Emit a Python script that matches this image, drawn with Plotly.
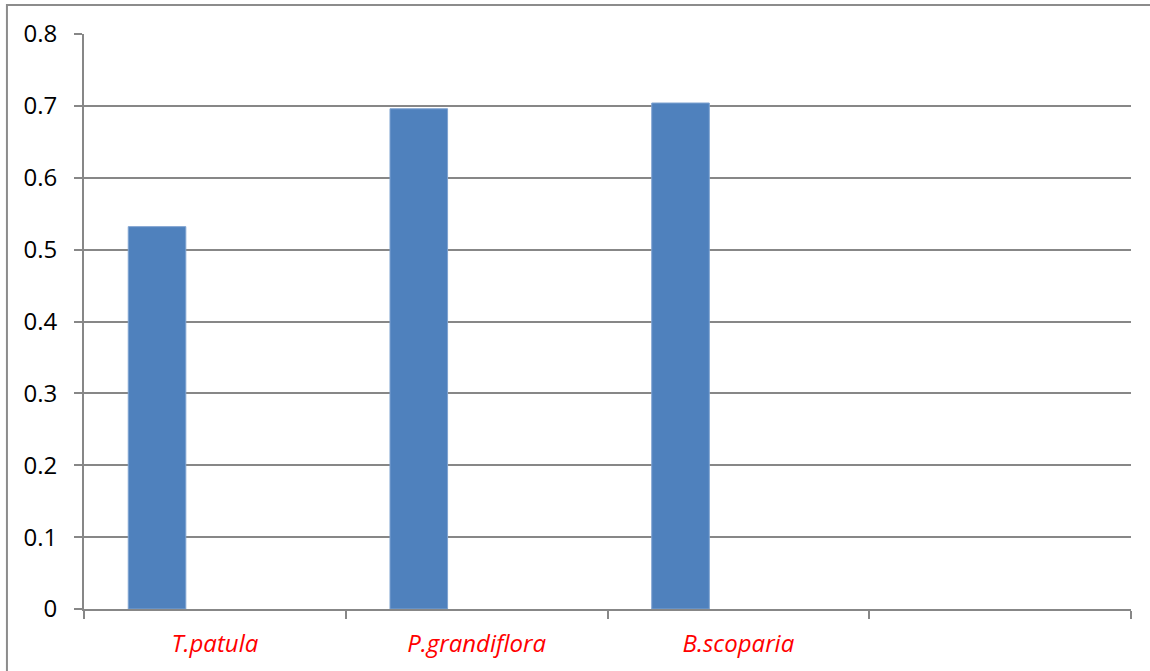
import plotly.graph_objects as go

# Species on the category axis; the fourth slot is an empty category
species = ["T.patula", "P.grandiflora", "B.scoparia", " "]
values = [0.532, 0.696, 0.704, None]

y_ticks = [0, 0.1, 0.2, 0.3, 0.4, 0.5, 0.6, 0.7, 0.8]
y_tick_text = ["0", "0.1", "0.2", "0.3", "0.4", "0.5", "0.6", "0.7", "0.8"]

axis_grey = "#878787"
bar_blue = "#4F81BD"

fig = go.Figure()
fig.add_trace(go.Bar(
    x=species,
    y=values,
    marker=dict(color=bar_blue, line=dict(color="#7FA3D1", width=1)),
    width=0.22,
    offset=-0.331,
    showlegend=False,
))

fig.update_layout(
    width=1150,
    height=671,
    margin=dict(l=84, r=19, t=34, b=62),
    paper_bgcolor="white",
    plot_bgcolor="white",
    font=dict(family="Open Sans, Liberation Sans, sans-serif", size=24, color="black"),
    xaxis=dict(
        type="category",
        categoryorder="array",
        categoryarray=species,
        range=[-0.5, 3.5],
        tickson="boundaries",
        ticks="outside",
        ticklen=8,
        tickwidth=2,
        tickcolor=axis_grey,
        showline=True,
        linecolor=axis_grey,
        linewidth=2,
        showgrid=False,
        tickfont=dict(color="red", size=24, style="italic"),
        ticklabelstandoff=12,
    ),
    yaxis=dict(
        range=[0, 0.8],
        tickvals=y_ticks,
        ticktext=y_tick_text,
        ticks="outside",
        ticklen=8,
        tickwidth=2,
        tickcolor=axis_grey,
        showline=True,
        linecolor=axis_grey,
        linewidth=2,
        showgrid=True,
        gridcolor=axis_grey,
        gridwidth=2,
        zeroline=False,
        tickfont=dict(size=24, color="black"),
        ticklabelstandoff=12,
    ),
    shapes=[
        # outer chart border, running off the right and bottom edges
        dict(type="rect", xref="paper", yref="paper",
             x0=-0.0736, x1=1.1, y0=-0.12, y1=1.0504,
             line=dict(color="#8C8C8C", width=2), fillcolor="rgba(0,0,0,0)",
             layer="below"),
    ],
)

fig.write_html("out.html")
